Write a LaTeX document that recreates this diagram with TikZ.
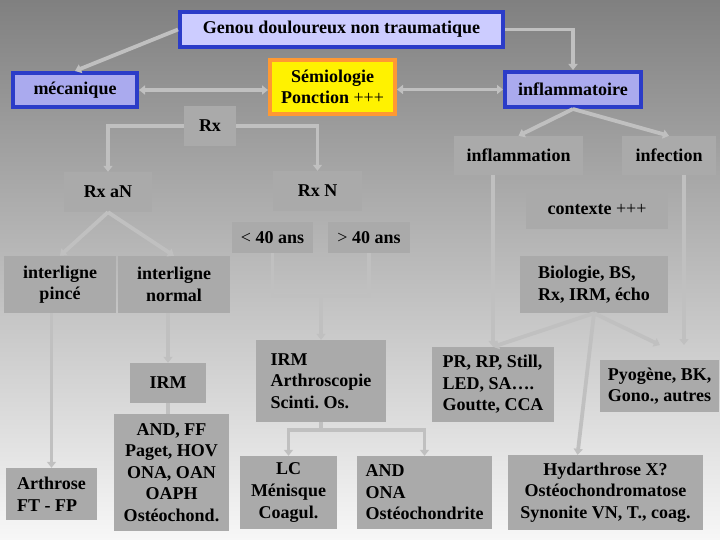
\documentclass[tikz,border=0pt]{standalone}
\usepackage{fontspec}
\setmainfont{Liberation Serif}
\usepackage{tikz}
\usetikzlibrary{arrows.meta,positioning,calc}
\definecolor{bgtop}{HTML}{808080}
\definecolor{bgbot}{HTML}{F7F7F7}
\definecolor{boxgray}{HTML}{AAAAAA}
\definecolor{linegray}{HTML}{C0C0C0}
\definecolor{lavpale}{HTML}{CCCCFF}
\definecolor{lavmid}{HTML}{AAAAEE}
\definecolor{blueedge}{HTML}{2B3CC8}
\definecolor{orangeedge}{HTML}{FF9933}
\frenchspacing

\begin{document}
\begin{tikzpicture}[
  x=1pt, y=-1pt,
  font=\fontsize{18}{21.6}\selectfont\bfseries,
  gbox/.style={rectangle, fill=boxgray, inner sep=2pt, align=center},
  lbox/.style={gbox, align=left},
  bbox/.style={rectangle, draw=blueedge, line width=4pt, inner sep=2pt, align=center},
  conn/.style={draw=linegray, line width=3.8pt},
  arr/.style={conn, -{Triangle[length=6pt,width=9pt]}},
  arrr/.style={conn, {Triangle[length=6pt,width=9pt]}-{Triangle[length=6pt,width=9pt]}}
]
  \shade[top color=bgtop, bottom color=bgbot] (0,0) rectangle (720,540);
  \useasboundingbox (0,0) rectangle (720,540);

  \node[bbox, fill=lavpale, minimum width=323pt, minimum height=35pt] (genou) at (341.5,29.5) {Genou douloureux non traumatique};
  \node[bbox, fill=lavmid, minimum width=124pt, minimum height=34pt] (mec) at (75,90) {mécanique};
  \node[rectangle, draw=orangeedge, fill=yellow, line width=4pt, inner sep=2pt, align=center,
        minimum width=125pt, minimum height=54pt] (semio) at (332.5,87) {Sémiologie\\ Ponction \mdseries+++};
  \node[bbox, fill=lavmid, minimum width=136pt, minimum height=35pt] (inflam) at (573,89.5) {inflammatoire};

  \node[gbox, minimum width=52pt, minimum height=40pt] (rx) at (210,126) {Rx};
  \node[gbox, minimum width=88pt, minimum height=40pt] (rxan) at (108,192) {Rx aN};
  \node[gbox, minimum width=89pt, minimum height=40pt] (rxn) at (317.5,191) {Rx N};
  \node[gbox, minimum width=81pt, minimum height=31pt] (lt40) at (272.5,237.5) {\mdseries<\bfseries{} 40 ans};
  \node[gbox, minimum width=82pt, minimum height=31pt] (gt40) at (369,237.5) {\mdseries>\bfseries{} 40 ans};
  \node[gbox, minimum width=112pt, minimum height=57pt] (ilp) at (60,284.5) {interligne\\ pincé};
  \node[gbox, minimum width=112pt, minimum height=57pt] (iln) at (174,284.5) {interligne\\ normal};
  \node[gbox, minimum width=76pt, minimum height=40pt] (irma) at (168,383) {IRM};
  \node[gbox, minimum width=115pt, minimum height=117pt] (andff) at (171.5,472.5) {AND, FF\\ Paget, HOV\\ ONA, OAN\\ OAPH\\ Ostéochond.};
  \node[lbox, minimum width=91pt, minimum height=52pt] (arth) at (51.5,494) {Arthrose\\ FT - FP};
  \node[lbox, minimum width=130pt, minimum height=82pt] (irmb) at (321,381) {IRM\\ Arthroscopie\\ Scinti. Os.};
  \node[gbox, minimum width=97pt, minimum height=73pt] (lc) at (288.5,492.5) {LC\\ Ménisque\\ Coagul.};
  \node[lbox, minimum width=135pt, minimum height=73pt] (andona) at (424.5,492.5) {AND\\ ONA\\ Ostéochondrite};

  \node[gbox, minimum width=129pt, minimum height=39pt] (inflm) at (518.5,155.5) {inflammation};
  \node[gbox, minimum width=94pt, minimum height=39pt] (infect) at (669,155.5) {infection};
  \node[gbox, minimum width=142pt, minimum height=39pt] (ctx) at (597,209.5) {contexte \mdseries+++};
  \node[lbox, minimum width=148pt, minimum height=57pt] (bio) at (594,284.5) {Biologie, BS,\\ Rx, IRM, écho};
  \node[lbox, minimum width=122pt, minimum height=75pt] (pr) at (493,384.5) {PR, RP, Still,\\ LED, SA\dots.\\ Goutte, CCA};
  \node[gbox, minimum width=119pt, minimum height=52pt] (pyo) at (659.5,386) {Pyogène, BK,\\ Gono., autres};
  \node[gbox, minimum width=195pt, minimum height=75pt] (hyd) at (605.5,492.5) {Hydarthrose X?\\ Ostéochondromatose\\ Synonite VN, T., coag.};

  \coordinate (j1) at (321,296);
  \coordinate (j2) at (321,430);
  \coordinate (c1) at (684,345);
  \coordinate (c2) at (660,345);

  \draw[arr] (genou.west) -- (mec.north);
  \draw[arr] (genou.east) -| (inflam.north);
  \draw[arrr] (mec.east) -- (mec.east -| semio.west);
  \draw[arrr] (semio.east |- inflam.west) -- (inflam.west);
  \draw[arr] (rx.west) -| (rxan.north);
  \draw[arr] (rx.east) -| (rxn.north);
  \draw[arr] (inflam.south) -- (inflm.north);
  \draw[arr] (inflam.south) -- (infect.north);
  \draw[arr] (rxan.south) -- (ilp.north);
  \draw[arr] (rxan.south) -- (iln.north);
  \draw[conn] (lt40.south) |- (j1) -| (gt40.south);
  \draw[arr] (j1) -- (irmb.north);
  \draw[arr] (arth.north |- ilp.south) -- (arth.north);
  \draw[arr] (irma.north |- iln.south) -- (irma.north);
  \draw[conn] (irma.south) -- (irma.south |- andff.north);
  \draw[conn] (irmb.south) -- (j2);
  \draw[arr] (j2) -| (lc.north);
  \draw[arr] (j2) -| (andona.north);
  \draw[arr] (pr.north |- inflm.south) -- (pr.north);
  \draw[arr] (c1 |- infect.south) -- (c1);
  \draw[arr] (bio.south) -- (pr.north);
  \draw[arr] (bio.south) -- (c2);
  \draw[arr] (bio.south) -- ([xshift=-28pt]hyd.north);
\end{tikzpicture}
\end{document}
